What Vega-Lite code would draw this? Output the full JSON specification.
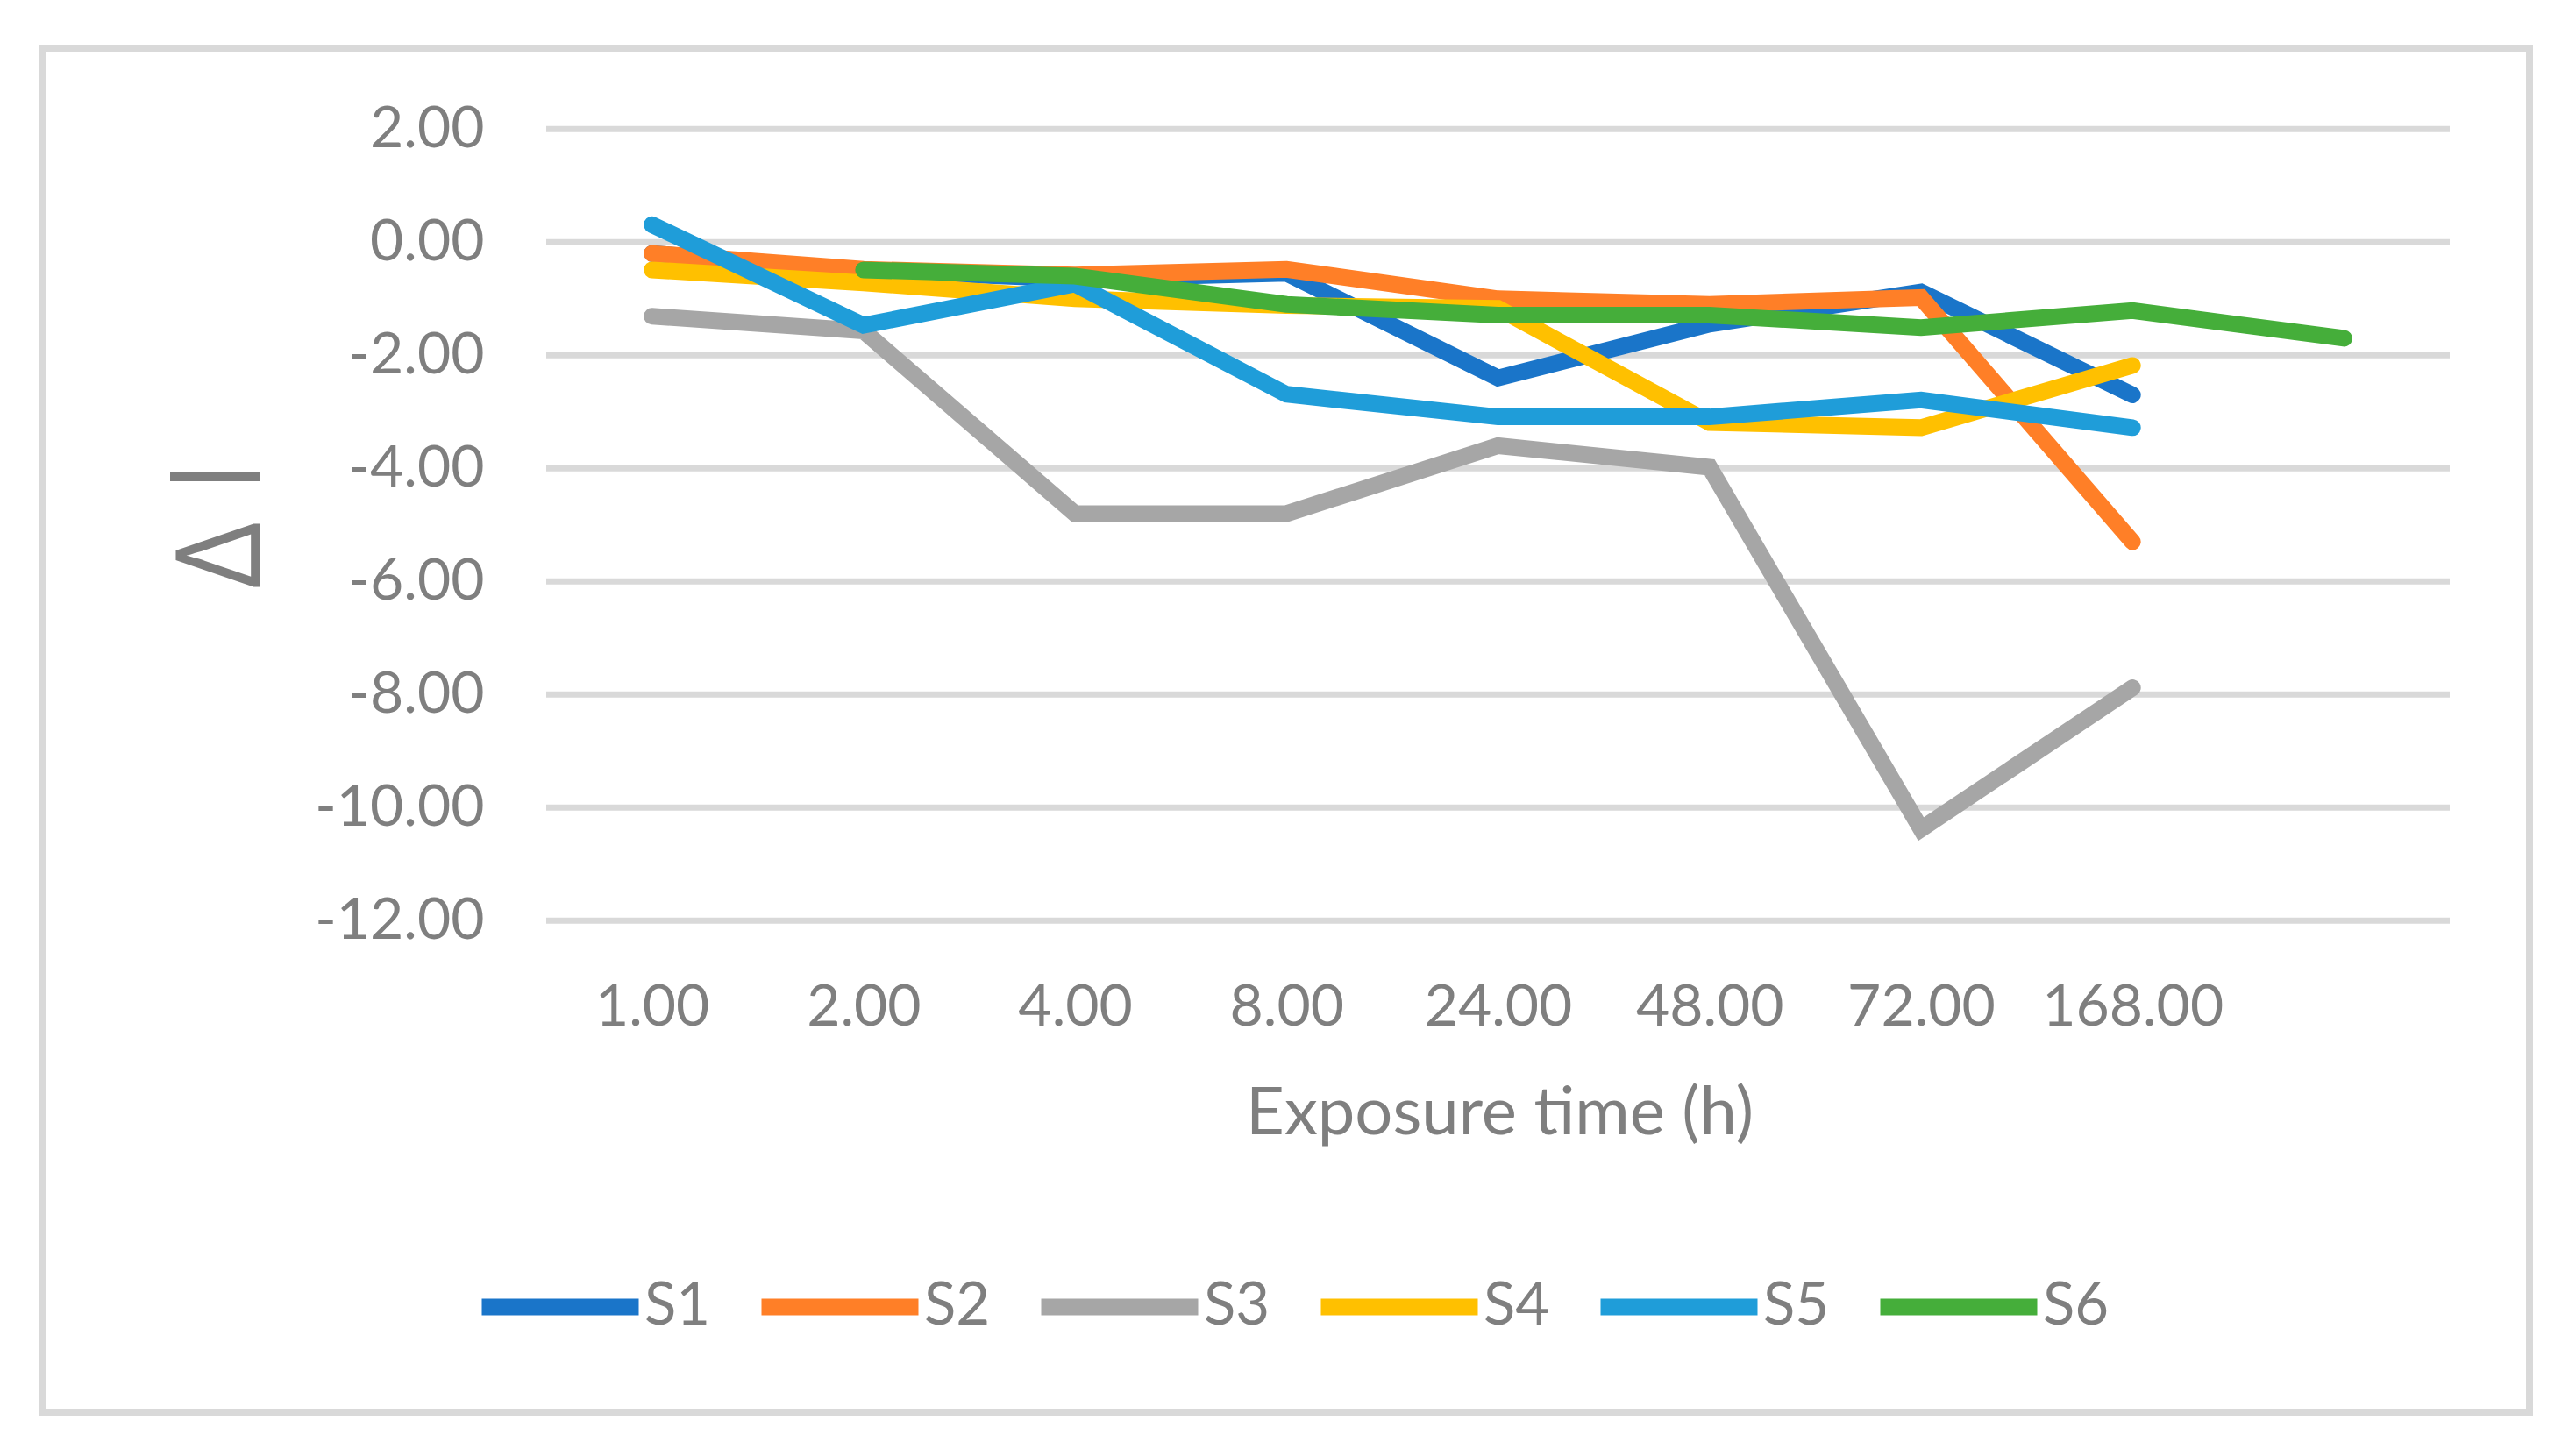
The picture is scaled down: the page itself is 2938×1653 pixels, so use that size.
{
  "$schema": "https://vega.github.io/schema/vega-lite/v6.json",
  "autosize": {"type": "none"},
  "width": 2837,
  "height": 1556,
  "padding": {"left": 48, "top": 55, "right": 53, "bottom": 42},
  "background": "white",
  "config": {"view": {"stroke": "#D9D9D9", "strokeWidth": 8}, "font": "Lato"},
  "datasets": {
    "grid": [{"g": 2}, {"g": 0}, {"g": -2}, {"g": -4}, {"g": -6}, {"g": -8}, {"g": -10}, {"g": -12}],
    "series": [
      {"series": "S1", "idx": 1, "hours": "1.00", "dl": -0.2},
      {"series": "S1", "idx": 2, "hours": "2.00", "dl": -0.5},
      {"series": "S1", "idx": 3, "hours": "4.00", "dl": -0.65},
      {"series": "S1", "idx": 4, "hours": "8.00", "dl": -0.55},
      {"series": "S1", "idx": 5, "hours": "24.00", "dl": -2.4},
      {"series": "S1", "idx": 6, "hours": "48.00", "dl": -1.45},
      {"series": "S1", "idx": 7, "hours": "72.00", "dl": -0.88},
      {"series": "S1", "idx": 8, "hours": "168.00", "dl": -2.7},
      {"series": "S2", "idx": 1, "hours": "1.00", "dl": -0.2},
      {"series": "S2", "idx": 2, "hours": "2.00", "dl": -0.48},
      {"series": "S2", "idx": 3, "hours": "4.00", "dl": -0.58},
      {"series": "S2", "idx": 4, "hours": "8.00", "dl": -0.48},
      {"series": "S2", "idx": 5, "hours": "24.00", "dl": -1.0},
      {"series": "S2", "idx": 6, "hours": "48.00", "dl": -1.1},
      {"series": "S2", "idx": 7, "hours": "72.00", "dl": -0.98},
      {"series": "S2", "idx": 8, "hours": "168.00", "dl": -5.3},
      {"series": "S3", "idx": 1, "hours": "1.00", "dl": -1.31},
      {"series": "S3", "idx": 2, "hours": "2.00", "dl": -1.57},
      {"series": "S3", "idx": 3, "hours": "4.00", "dl": -4.8},
      {"series": "S3", "idx": 4, "hours": "8.00", "dl": -4.8},
      {"series": "S3", "idx": 5, "hours": "24.00", "dl": -3.6},
      {"series": "S3", "idx": 6, "hours": "48.00", "dl": -3.98},
      {"series": "S3", "idx": 7, "hours": "72.00", "dl": -10.38},
      {"series": "S3", "idx": 8, "hours": "168.00", "dl": -7.88},
      {"series": "S4", "idx": 1, "hours": "1.00", "dl": -0.49},
      {"series": "S4", "idx": 2, "hours": "2.00", "dl": -0.72},
      {"series": "S4", "idx": 3, "hours": "4.00", "dl": -1.0},
      {"series": "S4", "idx": 4, "hours": "8.00", "dl": -1.12},
      {"series": "S4", "idx": 5, "hours": "24.00", "dl": -1.17},
      {"series": "S4", "idx": 6, "hours": "48.00", "dl": -3.19},
      {"series": "S4", "idx": 7, "hours": "72.00", "dl": -3.28},
      {"series": "S4", "idx": 8, "hours": "168.00", "dl": -2.18},
      {"series": "S5", "idx": 1, "hours": "1.00", "dl": 0.31},
      {"series": "S5", "idx": 2, "hours": "2.00", "dl": -1.47},
      {"series": "S5", "idx": 3, "hours": "4.00", "dl": -0.74},
      {"series": "S5", "idx": 4, "hours": "8.00", "dl": -2.69},
      {"series": "S5", "idx": 5, "hours": "24.00", "dl": -3.09},
      {"series": "S5", "idx": 6, "hours": "48.00", "dl": -3.09},
      {"series": "S5", "idx": 7, "hours": "72.00", "dl": -2.79},
      {"series": "S5", "idx": 8, "hours": "168.00", "dl": -3.28},
      {"series": "S6", "idx": 2, "hours": "2.00", "dl": -0.49},
      {"series": "S6", "idx": 3, "hours": "4.00", "dl": -0.6},
      {"series": "S6", "idx": 4, "hours": "8.00", "dl": -1.1},
      {"series": "S6", "idx": 5, "hours": "24.00", "dl": -1.29},
      {"series": "S6", "idx": 6, "hours": "48.00", "dl": -1.29},
      {"series": "S6", "idx": 7, "hours": "72.00", "dl": -1.51},
      {"series": "S6", "idx": 8, "hours": "168.00", "dl": -1.21},
      {"series": "S6", "idx": 9, "hours": "", "dl": -1.7}
    ]
  },
  "layer": [
    {
      "data": {"name": "grid"},
      "mark": {"type": "rule", "color": "#D9D9D9", "strokeWidth": 7},
      "encoding": {
        "y": {
          "field": "g", "type": "quantitative",
          "scale": {"domain": [-20.693, 3.431], "nice": false, "zero": false},
          "axis": {
            "orient": "left", "offset": -575,
            "values": [-12, -10, -8, -6, -4, -2, 0, 2],
            "labelExpr": "replace(format(datum.value, '.2f'), '\u2212', '-')",
            "grid": false, "domain": false, "ticks": false,
            "labelPadding": 71, "labelFont": "Lato", "labelFontSize": 66, "labelColor": "#7F7F7F",
            "labelOverlap": false, "labelLimit": 500,
            "title": "Δ l", "titleFont": "Open Sans", "titleFontSize": 133, "titleFontWeight": "normal",
            "titleColor": "#7F7F7F", "titleAngle": -90, "titleX": -328, "titleY": 543.8,
            "titleAlign": "center", "titleBaseline": "alphabetic"
          }
        },
        "x": {
          "datum": 0.5, "type": "quantitative",
          "scale": {"domain": [-1.8837, 9.8772], "nice": false, "zero": false},
          "axis": {
            "orient": "bottom", "offset": -560.7,
            "values": [1, 2, 3, 4, 5, 6, 7, 8],
            "labelExpr": "['1.00','2.00','4.00','8.00','24.00','48.00','72.00','168.00'][datum.value - 1]",
            "grid": false, "domain": false, "ticks": false,
            "labelPadding": 66.7, "labelFont": "Lato", "labelFontSize": 66, "labelColor": "#7F7F7F",
            "labelOverlap": false, "labelFlush": false, "labelLimit": 500,
            "title": "Exposure time (h)", "titleFont": "Lato", "titleFontSize": 76, "titleFontWeight": "normal",
            "titleColor": "#7F7F7F", "titleX": 1662, "titleY": 242.7, "titleAlign": "center", "titleBaseline": "alphabetic"
          }
        },
        "x2": {"datum": 9.5}
      }
    },
    {
      "data": {"name": "series"},
      "mark": {"type": "line", "strokeWidth": 19, "strokeCap": "round", "strokeJoin": "miter"},
      "encoding": {
        "x": {
          "field": "idx", "type": "quantitative",
          "scale": {"domain": [-1.8837, 9.8772], "nice": false, "zero": false},
          "axis": {
            "orient": "bottom", "offset": -560.7,
            "values": [1, 2, 3, 4, 5, 6, 7, 8],
            "labelExpr": "['1.00','2.00','4.00','8.00','24.00','48.00','72.00','168.00'][datum.value - 1]",
            "grid": false, "domain": false, "ticks": false,
            "labelPadding": 66.7, "labelFont": "Lato", "labelFontSize": 66, "labelColor": "#7F7F7F",
            "labelOverlap": false, "labelFlush": false, "labelLimit": 500,
            "title": "Exposure time (h)", "titleFont": "Lato", "titleFontSize": 76, "titleFontWeight": "normal",
            "titleColor": "#7F7F7F", "titleX": 1662, "titleY": 242.7, "titleAlign": "center", "titleBaseline": "alphabetic"
          }
        },
        "y": {
          "field": "dl", "type": "quantitative",
          "scale": {"domain": [-20.693, 3.431], "nice": false, "zero": false},
          "axis": {
            "orient": "left", "offset": -575,
            "values": [-12, -10, -8, -6, -4, -2, 0, 2],
            "labelExpr": "replace(format(datum.value, '.2f'), '\u2212', '-')",
            "grid": false, "domain": false, "ticks": false,
            "labelPadding": 71, "labelFont": "Lato", "labelFontSize": 66, "labelColor": "#7F7F7F",
            "labelOverlap": false, "labelLimit": 500,
            "title": "Δ l", "titleFont": "Open Sans", "titleFontSize": 133, "titleFontWeight": "normal",
            "titleColor": "#7F7F7F", "titleAngle": -90, "titleX": -328, "titleY": 543.8,
            "titleAlign": "center", "titleBaseline": "alphabetic"
          }
        },
        "color": {
          "field": "series", "type": "nominal",
          "scale": {"domain": ["S1", "S2", "S3", "S4", "S5", "S6"], "range": ["#1A75C9", "#FF7F27", "#A6A6A6", "#FFC000", "#1F9DD9", "#45AE3A"]},
          "legend": {
            "orient": "none", "legendX": 492, "legendY": 1337, "direction": "horizontal", "title": null,
            "symbolType": "stroke", "symbolSize": 32041, "symbolStrokeWidth": 19,
            "labelFont": "Lato", "labelFontSize": 67, "labelColor": "#7F7F7F", "labelOffset": -3,
            "columnPadding": 19, "padding": 0
          }
        }
      }
    }
  ]
}
